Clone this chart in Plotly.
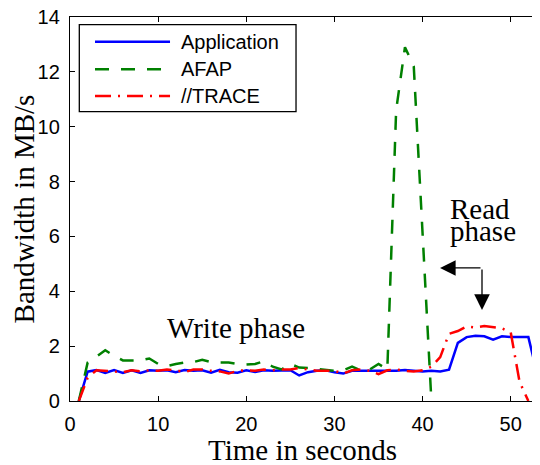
import plotly.graph_objects as go

# ---- data ----
time_app = list(range(1, 55))
application = [0, 1.07, 1.13, 1.02, 1.13, 1.02, 1.12, 1.02, 1.12, 1.10,
               1.12, 1.05, 1.13, 1.10, 1.12, 1.03, 1.14, 1.05, 1.03, 1.12,
               1.06, 1.12, 1.10, 1.12, 1.12, 0.93, 1.05, 1.10, 1.12, 1.05,
               1.00, 1.10, 1.10, 1.10, 1.10, 1.12, 1.10, 1.13, 1.10, 1.08,
               1.10, 1.08, 1.14, 2.12, 2.33, 2.38, 2.36, 2.24, 2.36, 2.33,
               2.33, 2.33, 1.00, 0.0]

time_afap = list(range(1, 42))
afap = [0, 1.40, 1.62, 1.85, 1.65, 1.48, 1.48, 1.48, 1.55, 1.35,
        1.27, 1.35, 1.40, 1.42, 1.50, 1.42, 1.40, 1.40, 1.35, 1.33,
        1.35, 1.45, 1.25, 1.15, 1.35, 1.22, 1.20, 1.17, 1.12, 1.10,
        1.12, 1.25, 1.12, 1.15, 1.35, 1.15, 10.6, 12.9, 12.2, 6.0,
        0.0]

time_trace = list(range(1, 53))
trace = [0, 0.85, 1.12, 1.10, 1.08, 1.05, 1.12, 1.08, 1.12, 1.10,
         1.15, 1.12, 1.05, 1.15, 1.15, 1.10, 1.08, 1.00, 1.10, 1.12,
         1.10, 1.15, 1.12, 1.15, 1.15, 1.20, 1.15, 1.10, 1.10, 1.10,
         1.00, 1.12, 1.15, 1.10, 0.98, 1.12, 1.15, 1.10, 1.08, 1.12,
         1.25, 1.60, 2.45, 2.55, 2.72, 2.68, 2.73, 2.70, 2.65, 2.50,
         0.70, 0.0]

series_names = ["Application", "AFAP", "//TRACE"]
x_ticks = [0, 10, 20, 30, 40, 50]
y_ticks = [0, 2, 4, 6, 8, 10, 12, 14]

# ---- styles ----
colors = ["#0000FF", "#008000", "#FF0000"]
dashes = ["solid", "14px,12px", "16px,7px,2px,7px"]
LW = 2.5
SERIF = "Liberation Serif, Times New Roman, serif"
SANS = "Liberation Sans, Arial, Helvetica, sans-serif"
SERIF_SIZE = 29

fig = go.Figure()
for xs, ys, name, c, d in zip([time_app, time_afap, time_trace],
                              [application, afap, trace],
                              series_names, colors, dashes):
    fig.add_trace(go.Scatter(x=xs, y=ys, mode="lines", name=name,
                             line=dict(color=c, width=LW, dash=d),
                             showlegend=False, cliponaxis=True))

# manual legend (MATLAB style box)
shapes = [dict(type="rect", xref="paper", yref="paper",
               x0=0.0198, x1=0.4809, y0=0.7534, y1=0.98,
               line=dict(color="black", width=1.3), fillcolor="white", layer="above")]
annotations = []
rows = [0.9357, 0.8638, 0.7943]
for name, c, d, yr in zip(series_names, colors, dashes, rows):
    shapes.append(dict(type="line", xref="paper", yref="paper",
                       x0=0.0532, x1=0.2128, y0=yr, y1=yr,
                       line=dict(color=c, width=LW, dash=d), layer="above"))
    annotations.append(dict(xref="paper", yref="paper", x=0.2319, y=yr,
                            xanchor="left", yanchor="middle", showarrow=False,
                            text=name, font=dict(family=SANS, size=20, color="black")))

serif_font = dict(family=SERIF, size=SERIF_SIZE, color="black")
annotations += [
    dict(x=18.83, y=2.66, xref="x", yref="y", text="Write phase", showarrow=False,
         font=serif_font, xanchor="center", yanchor="middle"),
    dict(x=42.9, y=7.0, xref="x", yref="y", text="Read", showarrow=False,
         font=serif_font, xanchor="left", yanchor="middle"),
    dict(x=42.9, y=6.2, xref="x", yref="y", text="phase", showarrow=False,
         font=serif_font, xanchor="left", yanchor="middle"),
    # bent arrow: corner -> left, corner -> down
    dict(x=41.98, y=4.85, ax=46.74, ay=4.85, xref="x", yref="y", axref="x", ayref="y",
         text="", showarrow=True, arrowhead=2, arrowsize=2.4, arrowwidth=1.3,
         arrowcolor="black", standoff=0, startstandoff=0),
    dict(x=46.74, y=3.32, ax=46.74, ay=4.85, xref="x", yref="y", axref="x", ayref="y",
         text="", showarrow=True, arrowhead=2, arrowsize=2.4, arrowwidth=1.3,
         arrowcolor="black", standoff=0, startstandoff=0),
    # axis titles
    dict(x=0.494, y=-0.127, xref="paper", yref="paper", text="Time in seconds",
         showarrow=False, font=serif_font, xanchor="center", yanchor="middle"),
    dict(x=-0.097, y=0.5, xref="paper", yref="paper", text="Bandwidth in MB/s",
         showarrow=False, font=serif_font, xanchor="center", yanchor="middle",
         textangle=-90),
]

# page body has an 8px margin, so the figure is 8px smaller and offset
fig.update_layout(
    width=532, height=457,
    margin=dict(l=62, r=0, t=9, b=64, autoexpand=False),
    paper_bgcolor="white", plot_bgcolor="white",
    shapes=shapes, annotations=annotations,
    showlegend=False,
)
fig.update_xaxes(range=[0, 53.32], tickvals=x_ticks, ticks="inside", ticklen=5,
                 tickcolor="black", showline=True, linecolor="black", linewidth=1.3,
                 mirror="ticks", showgrid=False, zeroline=False, automargin=False,
                 tickfont=dict(family=SANS, size=20, color="black"),
                 ticklabelstandoff=5, ticklabeloverflow="allow")
fig.update_yaxes(range=[0, 14], tickvals=y_ticks, ticks="inside", ticklen=5,
                 tickcolor="black", showline=True, linecolor="black", linewidth=1.3,
                 mirror=False, showgrid=False, zeroline=False, automargin=False,
                 tickfont=dict(family=SANS, size=20, color="black"),
                 ticklabelstandoff=5, ticklabeloverflow="allow")

fig.write_html("out.html")
